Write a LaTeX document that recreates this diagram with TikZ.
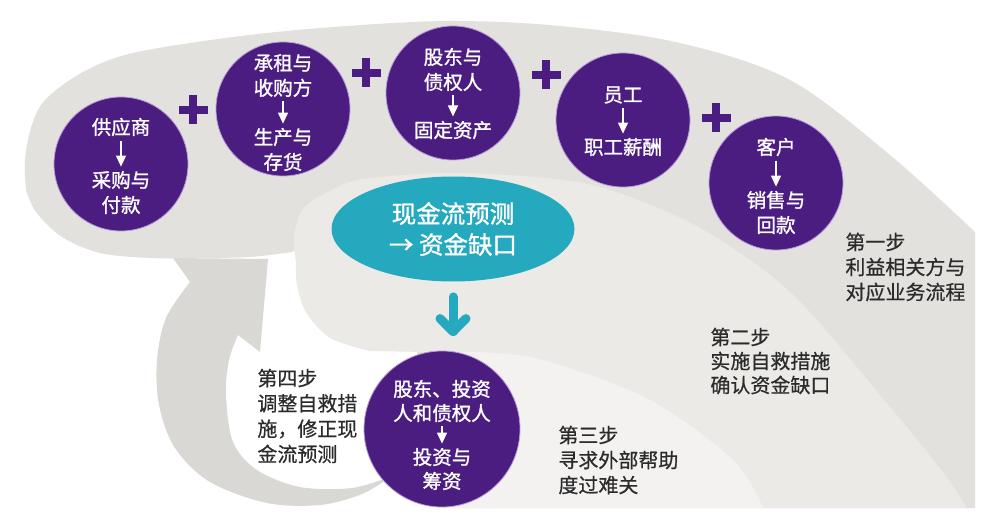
\documentclass[tikz,border=0pt]{standalone}
\usepackage{fontspec}
\newfontfamily\cjk{Noto Sans CJK SC}[FakeBold=1.2]
\newfontfamily\cjkt{Noto Sans CJK SC}[FakeBold=0.6]
\usetikzlibrary{shapes.geometric,arrows.meta}
\definecolor{pur}{HTML}{4B1D80}
\definecolor{purrim}{HTML}{B89AD8}
\definecolor{tl}{HTML}{25A9BF}
\definecolor{laya}{HTML}{E3E1DD}
\definecolor{layb}{HTML}{EBEAE7}
\definecolor{layc}{HTML}{F3F2F0}
\definecolor{arrgray}{HTML}{DAD8D4}
\definecolor{txt}{HTML}{2B2B2B}
\begin{document}
\begin{tikzpicture}[x=0.5pt,y=-0.5pt,
  pcirc/.style={circle,fill=pur,draw=purrim,line width=0.4pt,minimum size=67pt,inner sep=0pt},
  ctext/.style={text=white,font=\cjk\fontsize{9.75}{12.5}\selectfont,align=center,inner sep=2pt},
  carrow/.style={white,line width=0.6pt,-{Triangle[length=5.5pt,width=5pt]}},
  steptext/.style={text=txt,font=\cjkt\fontsize{10}{12.5}\selectfont,align=left,anchor=west,inner sep=0pt},
  fctext/.style={ellipse,fill=tl,minimum width=121.5pt,minimum height=52.5pt,inner sep=0pt,text=white,font=\cjk\fontsize{12.25}{15.5}\selectfont,align=center},
  tarrow/.style={tl,line width=4.5pt,line cap=round,line join=round},
  plussign/.style={pur}]
\useasboundingbox (0,0) rectangle (1000,529);

% layer 1 : outer band (step 1)
\fill[laya] plot[smooth,tension=0.55] coordinates {(26,190) (25,160) (31,128) (45,100) (83,72) (133,53) (233,37) (333,27) (450,21) (560,26) (680,43) (790,80) (890,155) (975,232)}
  -- (975,508) -- (455,508) -- (442,429) -- (400,300) -- (315,238)
  -- plot[smooth,tension=0.55] coordinates {(292,252) (250,257) (200,258) (150,258) (100,253) (62,237) (36,212) (26,190)} -- cycle;

% layer 2 (step 2)
\fill[layb] plot[smooth,tension=0.55] coordinates {(296,262) (294,235) (304,208) (330,191) (363,179) (450,173) (545,178) (610,190) (700,228) (790,292) (880,395) (945,475) (966,508)}
  -- (445,508) -- (442,429) -- (425,352)
  -- plot[smooth,tension=0.55] coordinates {(370,351) (330,338) (306,312) (297,285) (296,262)} -- cycle;

% layer 3 (step 3)
\fill[layc] plot[smooth,tension=0.55] coordinates {(440,352) (495,353) (550,362) (650,400) (733,460) (763,508)}
  -- (442,508) -- cycle;

% curved gray arrow (step 4)
\fill[arrgray] (268,259) -- (173,258) -- (190,282)
  -- plot[smooth,tension=0.55] coordinates {(190,282) (166,318) (157,360) (159,405) (175,448) (210,482) (267,503) (320,505) (362,494) (392,476)}
  -- plot[smooth,tension=0.55] coordinates {(392,476) (352,488) (300,487) (257,470) (233,442) (226,395) (229,360) (238,335)}
  -- (260,352) -- cycle;

% plus signs
\foreach \px/\py in {193/110,366/73,546/75,716/118}{
  \fill[plussign] (\px-14.5,\py-4) rectangle (\px+14.5,\py+4);
  \fill[plussign] (\px-4,\py-14.5) rectangle (\px+4,\py+14.5);
}

% stakeholder circles
\node[pcirc] (c1) at (121,164) {};
\node[pcirc] (c2) at (283,109) {};
\node[pcirc] (c3) at (453,93) {};
\node[pcirc] (c4) at (623,120) {};
\node[pcirc] (c5) at (776,183) {};
\node[pcirc,minimum size=78pt] (c6) at (442,429) {};

\node[ctext] (t1) at (121,127) {供应商};
\node[ctext] (b1) at (121,192.5) {采购与\\付款};
\draw[carrow] (t1) -- (b1);

\node[ctext] (t2) at (283,75.5) {承租与\\收购方};
\node[ctext] (b2) at (283,149.5) {生产与\\存货};
\draw[carrow] (t2) -- (b2);

\node[ctext] (t3) at (453,69.5) {股东与\\债权人};
\node[ctext] (b3) at (453,130) {固定资产};
\draw[carrow] (t3) -- (b3);

\node[ctext] (t4) at (623,95) {员工};
\node[ctext] (b4) at (623,147) {职工薪酬};
\draw[carrow] (t4) -- (b4);

\node[ctext] (t5) at (776,147) {客户};
\node[ctext] (b5) at (776,212.5) {销售与\\回款};
\draw[carrow] (t5) -- (b5);

\node[ctext,font=\cjk\fontsize{9.75}{12}\selectfont] (t6) at (442,401) {股东、投资\\人和债权人};
\node[ctext,font=\cjk\fontsize{9.75}{12}\selectfont] (b6) at (442,469) {投资与\\筹资};
\draw[carrow] (t6) -- (b6);

% cash flow forecast ellipse
\node[fctext] (fc) at (453,229) {现金流预测\\→ 资金缺口};
\coordinate (tip) at (fc.south |- c6.north);
\draw[tarrow] ([yshift=-7.5pt]fc.south) -- ([yshift=9.5pt]tip);
\draw[tarrow] ([xshift=-6.5pt,yshift=16pt]tip) -- ([yshift=9.5pt]tip) -- ([xshift=6.5pt,yshift=16pt]tip);

% step labels
\node[steptext] (s1) at (845,267) {第一步\\利益相关方与\\对应业务流程};
\node[steptext,font=\cjkt\fontsize{10}{12}\selectfont] (s2) at (710,361) {第二步\\实施自救措施\\确认资金缺口};
\node[steptext] (s3) at (558,460) {第三步\\寻求外部帮助\\度过难关};
\node[steptext,font=\cjkt\fontsize{10}{12.65}\selectfont] (s4) at (257,416) {第四步\\调整自救措\\施，修正现\\金流预测};
\end{tikzpicture}
\end{document}
